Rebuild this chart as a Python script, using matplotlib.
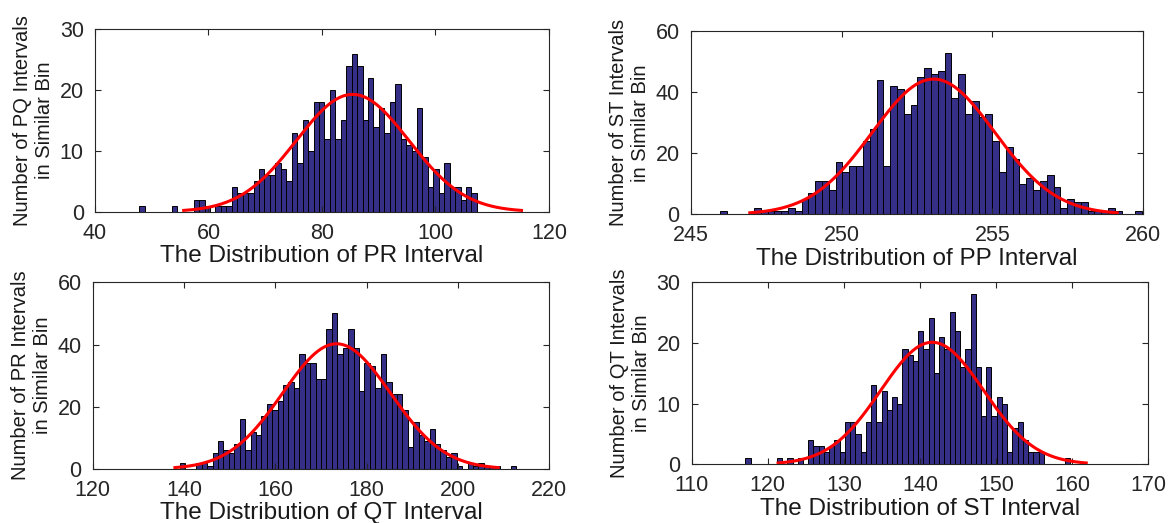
import numpy as np
import matplotlib.pyplot as plt

plt.rcParams['font.family'] = ['Liberation Sans', 'DejaVu Sans']

# Data: 62 bin counts per panel, bin range, and the fitted normal (mean, std)
pr_counts = [1, 0, 0, 0, 0, 0, 1, 0, 0, 0, 2, 2, 1, 0, 1, 1, 1, 4, 3, 3, 3, 5, 7, 6, 6, 8, 7, 5, 13, 8, 15,
             10, 18, 18, 12, 20, 12, 15, 24, 26, 24, 15, 22, 14, 17, 13, 18, 21, 12, 11, 10, 17, 9, 4, 7, 3,
             8, 4, 4, 2, 4, 3]
pr_range = (47.8, 107.3)
pr_fit = (85.4, 9.92)

pp_counts = [1, 0, 0, 0, 0, 2, 1, 1, 1, 1, 2, 1, 5, 7, 11, 11, 8, 17, 14, 16, 16, 24, 28, 44, 16, 42, 41,
             33, 36, 45, 48, 46, 47, 53, 38, 46, 33, 37, 32, 33, 24, 14, 22, 18, 10, 12, 8, 11, 13, 9, 2, 5,
             4, 4, 1, 1, 1, 2, 1, 0, 0, 1]
pp_range = (245.97, 259.96)
pp_fit = (253.05, 2.03)

qt_counts = [2, 0, 0, 2, 2, 1, 5, 9, 6, 5, 8, 16, 6, 12, 11, 17, 21, 19, 22, 27, 28, 26, 37, 34, 34, 29,
             29, 45, 50, 37, 39, 45, 39, 25, 34, 33, 26, 37, 28, 24, 24, 19, 7, 15, 11, 9, 13, 8, 6, 4, 5,
             1, 0, 2, 1, 2, 1, 1, 1, 0, 0, 1]
qt_range = (139.1, 212.8)
qt_fit = (173.4, 11.8)

st_counts = [1, 0, 0, 0, 0, 0, 1, 0, 1, 0, 1, 0, 4, 3, 3, 2, 3, 4, 2, 7, 7, 5, 2, 7, 13, 7, 12, 9, 11, 10,
             19, 18, 17, 22, 19, 24, 15, 21, 19, 25, 22, 16, 19, 28, 16, 8, 16, 8, 11, 10, 2, 6, 7, 4, 2,
             2, 2, 0, 0, 0, 0, 1]
st_range = (117.06, 159.71)
st_fit = (141.6, 6.75)

panels = [
    dict(counts=pr_counts, rng=pr_range, fit=pr_fit, xlim=(40, 120), xticks=np.arange(40, 121, 20),
         ylim=(0, 30), yticks=[0, 10, 20, 30], pos=[0.0811, 0.5952, 0.3877, 0.3488],
         xlabel='The Distribution of PR Interval', ylabel='Number of PQ Intervals\nin Similar Bin'),
    dict(counts=pp_counts, rng=pp_range, fit=pp_fit, xlim=(245, 260), xticks=[245, 250, 255, 260],
         ylim=(0, 60), yticks=[0, 20, 40, 60], pos=[0.5898, 0.5902, 0.3865, 0.3499],
         xlabel='The Distribution of PP Interval', ylabel='Number of ST Intervals\nin Similar Bin'),
    dict(counts=qt_counts, rng=qt_range, fit=qt_fit, xlim=(120, 220), xticks=np.arange(120, 221, 20),
         ylim=(0, 60), yticks=[0, 20, 40, 60], pos=[0.0792, 0.1033, 0.3899, 0.357],
         xlabel='The Distribution of QT Interval', ylabel='Number of PR Intervals\nin Similar Bin'),
    dict(counts=st_counts, rng=st_range, fit=st_fit, xlim=(110, 170), xticks=np.arange(110, 171, 10),
         ylim=(0, 30), yticks=[0, 10, 20, 30], pos=[0.5907, 0.1122, 0.3899, 0.3486],
         xlabel='The Distribution of ST Interval', ylabel='Number of QT Intervals\nin Similar Bin'),
]

fig = plt.figure(figsize=(11.71, 5.23), dpi=100)
for p in panels:
    ax = fig.add_axes(p['pos'])
    counts = np.array(p['counts'])
    edges = np.linspace(p['rng'][0], p['rng'][1], len(counts) + 1)
    bw = edges[1] - edges[0]
    ax.bar(edges[:-1], counts, width=bw, align='edge', color='#352F88', edgecolor='black', linewidth=0.7)

    # histfit style: normal curve over mean +- 3 std, scaled to histogram area
    mu, sd = p['fit']
    x = np.linspace(mu - 3 * sd, mu + 3 * sd, 200)
    y = counts.sum() * bw * np.exp(-0.5 * ((x - mu) / sd) ** 2) / (sd * np.sqrt(2 * np.pi))
    ax.plot(x, y, color='red', linewidth=2.2)

    ax.set_xlim(p['xlim'])
    ax.set_ylim(p['ylim'])
    ax.set_xticks(p['xticks'])
    ax.set_yticks(p['yticks'])
    ax.tick_params(direction='in', top=True, right=True, length=4, width=0.8, labelsize=15.5,
                   colors='#262626')
    ax.tick_params(axis='x', pad=8)
    ax.tick_params(axis='y', pad=8)
    for s in ax.spines.values():
        s.set_color('#262626')
        s.set_linewidth(0.8)
    ax.set_xlabel(p['xlabel'], fontsize=17.5, color='#1a1a1a', labelpad=1)
    ax.set_ylabel(p['ylabel'], fontsize=14.5, color='#1a1a1a', labelpad=4, linespacing=1.2)

plt.savefig('out.png')
